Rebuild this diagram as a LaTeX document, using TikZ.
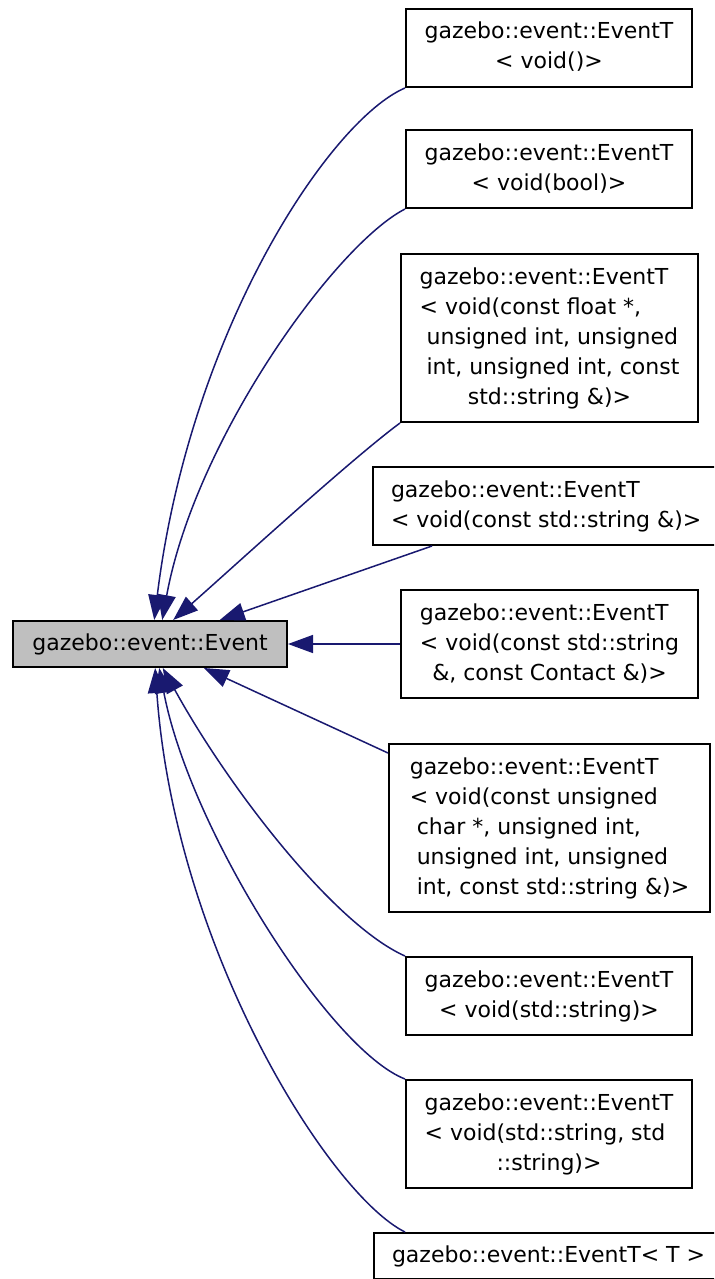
\documentclass[tikz,border=0pt]{standalone}
\usepackage{fontspec}
\setmainfont{DejaVu Sans}
\usetikzlibrary{arrows.meta}

% last line of a label is centred, the others are flush left
\newcommand{\lastline}[1]{\multicolumn{1}{@{}c@{}}{#1}}

\begin{document}
\begin{tikzpicture}[x=0.5pt, y=-0.5pt,
  classbox/.style={draw, line width=1pt, anchor=west, inner xsep=9pt, inner ysep=2pt,
    font=\fontsize{11}{15}\selectfont},
  edge/.style={draw=edgeblue, line width=0.75pt, -{Triangle[length=12.5pt, width=9pt]}}]
  \definecolor{edgeblue}{RGB}{25,25,112}
  \definecolor{basegray}{RGB}{191,191,191}

  \useasboundingbox (0,0) rectangle (714,1279);
  \clip (0,0) rectangle (714,1279);

  % Draw the nodes first

  \node[classbox, fill=basegray, minimum width=137pt, minimum height=23pt] (base) at (12,644)
    {gazebo::event::Event};

  \node[classbox, minimum width=143pt, minimum height=39pt] (box1) at (405,48)
    {\begin{tabular}{@{}l@{}}gazebo::event::EventT\\ \lastline{< void()>}\end{tabular}};
  \node[classbox, minimum width=143pt, minimum height=39pt] (box2) at (405,169)
    {\begin{tabular}{@{}l@{}}gazebo::event::EventT\\ \lastline{< void(bool)>}\end{tabular}};
  \node[classbox, minimum width=148.5pt, minimum height=84pt] (box3) at (400,338)
    {\begin{tabular}{@{}l@{}}gazebo::event::EventT\\ < void(const float *,\\ \ unsigned int, unsigned\\
      \ int, unsigned int, const\\ \lastline{std::string \&)>}\end{tabular}};
  \node[classbox, minimum height=39pt] (box4) at (372,506)
    {\begin{tabular}{@{}l@{}}gazebo::event::EventT\\ \lastline{< void(const std::string \&)>}\end{tabular}};
  \node[classbox, minimum width=148.5pt, minimum height=54pt] (box5) at (400,644)
    {\begin{tabular}{@{}l@{}}gazebo::event::EventT\\ < void(const std::string\\
      \lastline{\&, const Contact \&)>}\end{tabular}};
  \node[classbox, minimum width=160.5pt, minimum height=84pt] (box6) at (388,828)
    {\begin{tabular}{@{}l@{}}gazebo::event::EventT\\ < void(const unsigned\\ \ char *, unsigned int,\\
      \ unsigned int, unsigned\\ \lastline{\ int, const std::string \&)>}\end{tabular}};
  \node[classbox, minimum width=143pt, minimum height=39pt] (box7) at (405,996)
    {\begin{tabular}{@{}l@{}}gazebo::event::EventT\\ \lastline{< void(std::string)>}\end{tabular}};
  \node[classbox, minimum width=143pt, minimum height=54pt] (box8) at (405,1134)
    {\begin{tabular}{@{}l@{}}gazebo::event::EventT\\ < void(std::string, std\\
      \lastline{::string)>}\end{tabular}};
  \node[classbox, minimum height=23pt] (box9) at (373,1256)
    {gazebo::event::EventT< T >};

  % Then draw the edges, heads on the base class

  \draw[edge] (box1.south west) .. controls (330,120) and (190,330) .. (base.80);
  \draw[edge] (box2.south west) .. controls (335,245) and (195,440) .. (base.63);
  \draw[edge] (box3.south west) .. controls (350,460) and (230,570) .. (base.46);
  \draw[edge] ([xshift=30pt]box4.south west) -- (base.19);
  \draw[edge] (box5.west) -- (base.east);
  \draw[edge] ([yshift=-5pt]box6.north west) -- (base.-24);
  \draw[edge] (box7.north west) .. controls (335,925) and (230,790) .. (base.-62);
  \draw[edge] (box8.north west) .. controls (330,1050) and (190,830) .. (base.-69);
  \draw[edge] ([xshift=16pt]box9.north west) .. controls (330,1195) and (175,950) .. (base.-78);
\end{tikzpicture}
\end{document}
